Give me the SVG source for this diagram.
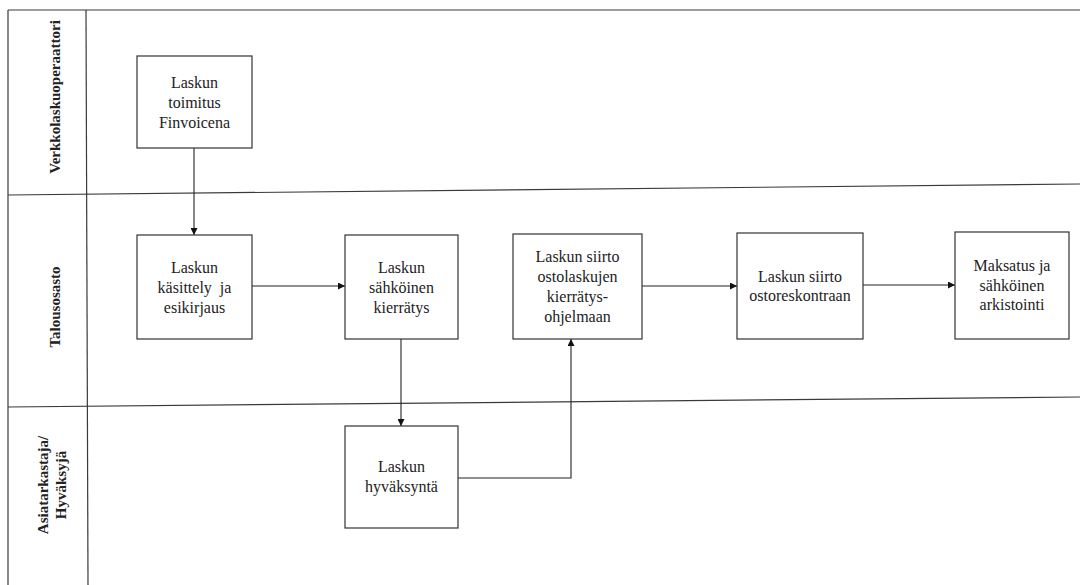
<svg xmlns="http://www.w3.org/2000/svg" width="1080" height="585" viewBox="0 0 1080 585">
<style>
.frame{stroke:#3a3a3a;stroke-width:1.2;fill:none}
.box{fill:#fff;stroke:#333;stroke-width:1.2}
.c{stroke:#222;stroke-width:1.1;fill:none}
</style>
<defs>
<marker id="ah" viewBox="0 0 10 10" refX="10" refY="5" markerWidth="7" markerHeight="7" markerUnits="userSpaceOnUse" orient="auto">
<path d="M0,0 L10,5 L0,10 z" fill="#111"/>
</marker>
</defs>
<rect width="1080" height="585" fill="#fff"/>
<g id="lanes">
<line class="frame" x1="8" y1="10" x2="1080" y2="10"/>
<line class="frame" x1="8" y1="10" x2="8" y2="585"/>
<line class="frame" x1="86" y1="10" x2="88" y2="585"/>
<line class="frame" x1="8" y1="195" x2="1080" y2="184"/>
<line class="frame" x1="8" y1="407" x2="1080" y2="397"/>
<g font-family="Liberation Serif" font-size="15" font-weight="bold" fill="#222" text-anchor="middle">
<text transform="translate(60,97) rotate(-90)">Verkkolaskuoperaattori</text>
<text transform="translate(60,307) rotate(-90)">Talousosasto</text>
<text transform="translate(48,485) rotate(-90)">Asiatarkastaja/</text>
<text transform="translate(66,485) rotate(-90)">Hyväksyjä</text>
</g>
</g>
<g id="connectors">
<line class="c" x1="194" y1="148" x2="194" y2="235" marker-end="url(#ah)"/>
<line class="c" x1="252" y1="286" x2="345" y2="286" marker-end="url(#ah)"/>
<line class="c" x1="401" y1="339" x2="401" y2="426" marker-end="url(#ah)"/>
<polyline class="c" points="458,478 571,478 571,339" marker-end="url(#ah)"/>
<line class="c" x1="642" y1="286" x2="737" y2="286" marker-end="url(#ah)"/>
<line class="c" x1="863" y1="285" x2="955" y2="285" marker-end="url(#ah)"/>
</g>
<g font-family="Liberation Serif" font-size="16" fill="#222" text-anchor="middle">
<g id="n1">
<rect class="box" x="137" y="56" width="115" height="92"/>
<text x="194.5" y="88">Laskun</text>
<text x="194.5" y="108">toimitus</text>
<text x="194.5" y="128">Finvoicena</text>
</g>
<g id="n2">
<rect class="box" x="137" y="235" width="115" height="104"/>
<text x="194.5" y="273">Laskun</text>
<text x="194.5" y="293" xml:space="preserve">käsittely  ja</text>
<text x="194.5" y="313">esikirjaus</text>
</g>
<g id="n3">
<rect class="box" x="345" y="235" width="113" height="104"/>
<text x="401.5" y="273">Laskun</text>
<text x="401.5" y="293">sähköinen</text>
<text x="401.5" y="313">kierrätys</text>
</g>
<g id="n4">
<rect class="box" x="513" y="234" width="129" height="105"/>
<text x="577.5" y="262">Laskun siirto</text>
<text x="577.5" y="282">ostolaskujen</text>
<text x="577.5" y="302">kierrätys-</text>
<text x="577.5" y="322">ohjelmaan</text>
</g>
<g id="n5">
<rect class="box" x="737" y="233" width="126" height="106"/>
<text x="800" y="282">Laskun siirto</text>
<text x="800" y="301">ostoreskontraan</text>
</g>
<g id="n6">
<rect class="box" x="955" y="232" width="114" height="107"/>
<text x="1012" y="271">Maksatus ja</text>
<text x="1012" y="291">sähköinen</text>
<text x="1012" y="310">arkistointi</text>
</g>
<g id="n7">
<rect class="box" x="345" y="426" width="113" height="102"/>
<text x="401.5" y="472">Laskun</text>
<text x="401.5" y="492">hyväksyntä</text>
</g>
</g>
</svg>
